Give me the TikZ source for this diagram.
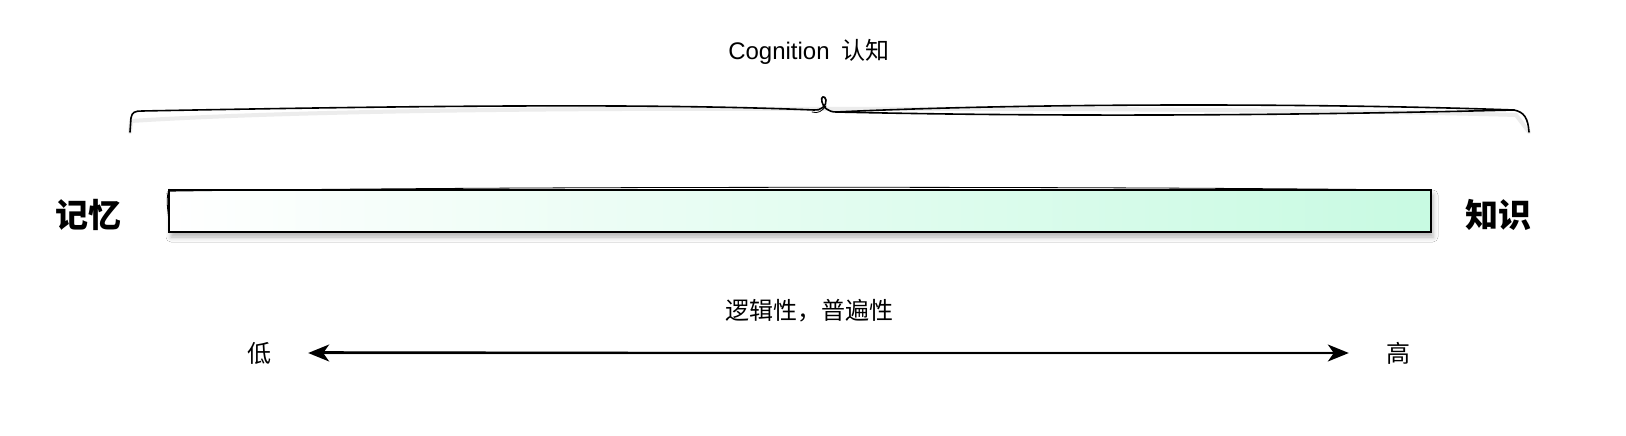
\documentclass[tikz,border=0pt]{standalone}
\usepackage{fontspec}
\setmainfont{Liberation Sans}
\newfontfamily\cjk{Noto Sans CJK SC}
\usetikzlibrary{arrows.meta,positioning,shadows.blur}
\usepackage{xcolor}
\definecolor{barmint}{RGB}{200,250,226}
\tikzset{
  ink/.style={draw=black, line width=1.6pt, line cap=round, line join=round},
  thinink/.style={draw=black, line width=0.8pt, line cap=round, line join=round},
  inkshadow/.style={draw=black!12, line width=4pt, line cap=round, opacity=0.6},
  caption/.style={font=\fontsize{24}{28}\selectfont, inner sep=2pt},
  endlabel/.style={font=\cjk\bfseries\fontsize{33}{38}\selectfont, inner sep=2pt},
  scalelabel/.style={font=\cjk\fontsize{24}{28}\selectfont, inner sep=2pt},
  barbox/.style={
    draw=black, line width=1.6pt,
    minimum width=1262pt, minimum height=42pt,
    left color=white, right color=barmint,
    blur shadow={shadow xshift=2pt, shadow yshift=-5pt, shadow blur radius=5pt, shadow opacity=30}
  },
  arrow/.style={ink, line width=1.8pt, {Stealth[length=21pt, width=17pt, inset=6pt]}-{Stealth[length=21pt, width=17pt, inset=6pt]}},
}
\begin{document}
\begin{tikzpicture}[x=1pt, y=-1pt]
\useasboundingbox[fill=white] (0,0) rectangle (1626,436);

% Title and brace
\node[caption] (title) at (809,52) {Cognition\hspace{0.5em}{\cjk 认知}};
\coordinate (braceleft) at (130,132);
\coordinate (bracemid) at (824,109);
\coordinate (braceright) at (1529,132);
\draw[inkshadow, yshift=-4pt] (braceleft) -- (131,117) .. controls (300,106) and (600,104) .. (bracemid)
  .. controls (1000,104) and (1350,106) .. (1516,111) -- (braceright);
\draw[ink] (braceleft) -- (131,118) .. controls (132,112) and (135,111) .. (142,111)
  .. controls (400,106) and (650,103) .. (814,110)
  .. controls (820,111) and (827,106) .. (826,100)
  .. controls (825,95) and (820,96) .. (822,102)
  .. controls (823,107) and (828,112) .. (836,112)
  .. controls (1100,118) and (1350,114) .. (1514,110)
  .. controls (1524,112) and (1528,118) .. (braceright);
\draw[ink] (836,112) .. controls (1050,102) and (1350,104) .. (1514,110);
\draw[thinink] (812,112) .. controls (818,114) and (822,111) .. (826,106);

% Spectrum bar
\node[barbox] (bar) at (800,211) {};
\draw[thinink] ([xshift=1pt]bar.north west) .. controls ([xshift=-4pt, yshift=-12pt]bar.north west) and ([xshift=2pt, yshift=-28pt]bar.north west) .. ([xshift=1pt]bar.south west);
\draw[thinink] ([xshift=1pt, yshift=-2pt]bar.north west) .. controls ([xshift=-300pt, yshift=3pt]bar.north) and ([xshift=300pt, yshift=3pt]bar.north) .. ([yshift=-1pt]bar.north east);
\node[endlabel] (memory) at (88,215) {记忆};
\node[endlabel] (knowledge) at (1498,215) {知识};

% Scale arrow
\node[scalelabel] (scale) at (809,311) {逻辑性，普遍性};
\node[scalelabel] (low) at (259,353) {低};
\node[scalelabel] (high) at (1398,353) {高};
\draw[inkshadow, yshift=-4pt, shorten <=40pt, shorten >=40pt] (low) -- (high);
\draw[arrow, shorten <=35pt, shorten >=35pt] (low) -- (high);
\draw[thinink, shorten <=60pt, shorten >=80pt] ([yshift=1.5pt]low.center) -- ([yshift=-0.5pt]high.center);

\end{tikzpicture}
\end{document}
